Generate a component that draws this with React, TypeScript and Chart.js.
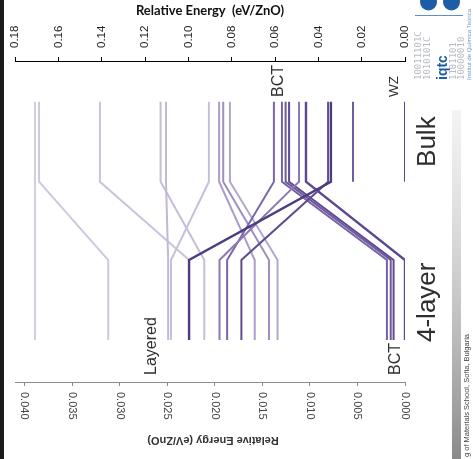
import { useEffect, useRef } from "react";
import { Chart, registerables } from "chart.js";

Chart.register(...registerables);

// ---- axes ----
const BULK_AXIS_MAX = 0.18; // top axis (bulk)
const LAYER_AXIS_MAX = 0.041; // bottom axis (4-layer)
const BULK_TICKS = [0, 0.02, 0.04, 0.06, 0.08, 0.1, 0.12, 0.14, 0.16, 0.18];
const LAYER_TICKS = [0, 0.005, 0.01, 0.015, 0.02, 0.025, 0.03, 0.035, 0.04];

// ---- level correlation: bulk energy (eV/ZnO) -> 4-layer energy (eV/ZnO) ----
const BULK_ENERGY = [
  0.1708, 0.1689, 0.1408, 0.1128, 0.1103, 0.0905, 0.0858, 0.0839, 0.0808,
  0.0605, 0.0568, 0.0551, 0.0535, 0.0489, 0.0457, 0.0355, 0.0342,
];
const LAYER_ENERGY = [
  0.0389, 0.0312, 0.0227, 0.0211, 0.0249, 0.0246, 0.0158, 0.0143, 0.0134,
  0.0187, 0.0019, 0.0015, 0.0012, 0.0195, 0.0, 0.0172, 0.0227,
];
const LINE_COLORS = [
  "#d3cde0", "#cfc8de", "#cbc3dc", "#c6bdd8", "#c2b9d5", "#c8c0da", "#ab9dc8",
  "#9f8fc0", "#b3a7cd", "#7c67a9", "#7663a4", "#6d589d", "#5f4a91", "#8b78b4",
  "#5c4790", "#604b92", "#4f3b7f",
];
const LINE_WIDTHS = [2, 2, 2, 2, 2, 2, 2, 2, 2, 2, 2, 2, 2, 2, 2.4, 2, 2.4];

// bulk-only levels (not correlated)
const BULK_ONLY_ENERGY = [0.024, 0.0];
const BULK_ONLY_COLORS = ["#6f5ba1", "#5a4889"];

// vertical stages: bulk top, bulk end, 4-layer start, 4-layer end
const STAGE_Y = [0.873, 0.624, 0.38, 0.131];

// labels: [text, axis, value (baseline), y start, font size]
const LABELS: [string, "top" | "bottom", number, number, number][] = [
  ["BCT", "top", 0.0563, 0.888, 16],
  ["WZ", "top", 0.0032, 0.888, 13.5],
  ["Bulk", "top", -0.0138, 0.67, 26],
  ["4-layer", "top", -0.0138, 0.1246, 26],
  ["Layered", "bottom", 0.0262, 0.0218, 16],
  ["BCT", "bottom", 0.00053, 0.0218, 16],
];

const toLayerScale = (e: number) => e * (LAYER_AXIS_MAX / BULK_AXIS_MAX);

const FONT = "'Liberation Sans', Arial, sans-serif";

export default function App() {
  const ref = useRef<HTMLCanvasElement | null>(null);

  useEffect(() => {
    if (!ref.current) return;

    const linked = BULK_ENERGY.map((b, i) => ({
      data: [
        { x: toLayerScale(b), y: STAGE_Y[0] },
        { x: toLayerScale(b), y: STAGE_Y[1] },
        { x: LAYER_ENERGY[i], y: STAGE_Y[2] },
        { x: LAYER_ENERGY[i], y: STAGE_Y[3] },
      ],
      borderColor: LINE_COLORS[i],
      borderWidth: LINE_WIDTHS[i],
      showLine: true,
      pointRadius: 0,
      fill: false,
      tension: 0,
    }));
    const bulkOnly = BULK_ONLY_ENERGY.map((b, i) => ({
      data: [
        { x: toLayerScale(b), y: STAGE_Y[0] },
        { x: toLayerScale(b), y: STAGE_Y[1] },
      ],
      borderColor: BULK_ONLY_COLORS[i],
      borderWidth: 2,
      showLine: true,
      pointRadius: 0,
      fill: false,
    }));
    // first dataset is drawn on top -> darkest first
    const datasets = [...bulkOnly, ...linked].reverse();

    const overlay = {
      id: "overlay",
      afterDraw(chart: any) {
        const ctx = chart.ctx as CanvasRenderingContext2D;
        const xb = chart.scales.x;
        const xt = chart.scales.xTop;
        const y = chart.scales.y;
        const ca = chart.chartArea;

        // top tick labels (rotated counter-clockwise)
        ctx.save();
        ctx.fillStyle = "#222";
        ctx.font = `11.5px ${FONT}`;
        for (const t of xt.ticks) {
          const px = xt.getPixelForValue(t.value);
          ctx.save();
          ctx.translate(px, xt.bottom - 13);
          ctx.rotate(-Math.PI / 2);
          ctx.textAlign = "left";
          ctx.textBaseline = "middle";
          ctx.fillText(Number(t.value).toFixed(2), 0, 0);
          ctx.restore();
        }
        ctx.restore();

        // bottom tick labels (rotated clockwise)
        ctx.save();
        ctx.fillStyle = "#444";
        ctx.font = `11px ${FONT}`;
        for (const t of xb.ticks) {
          const px = xb.getPixelForValue(t.value);
          ctx.save();
          ctx.translate(px, xb.top + 10);
          ctx.rotate(Math.PI / 2);
          ctx.textAlign = "left";
          ctx.textBaseline = "middle";
          ctx.fillText(Number(t.value).toFixed(3), 0, 0);
          ctx.restore();
        }
        // bottom title (upside down)
        ctx.save();
        ctx.translate((ca.left + ca.right) / 2 + 3, xb.top + 58);
        ctx.rotate(Math.PI);
        ctx.font = `bold 11px ${FONT}`;
        ctx.fillStyle = "#333";
        ctx.textAlign = "center";
        ctx.textBaseline = "middle";
        ctx.fillText("Relative Energy (eV/ZnO)", 0, 0);
        ctx.restore();

        // structure labels
        for (const [text, axis, v, yv, size] of LABELS) {
          const sc = axis === "top" ? xt : xb;
          const px = sc.getPixelForValue(v);
          const py = y.getPixelForValue(yv);
          ctx.save();
          ctx.translate(px, py);
          ctx.rotate(-Math.PI / 2);
          ctx.font = `${size}px ${FONT}`;
          ctx.fillStyle = "#2e2e2e";
          ctx.textAlign = "left";
          ctx.textBaseline = "alphabetic";
          ctx.fillText(text, 0, 0);
          ctx.restore();
        }
        ctx.restore();

        // ---- poster decorations ----
        ctx.save();
        ctx.fillStyle = "#1b1b1b";
        ctx.fillRect(0, 0, 4, 459);
        ctx.fillStyle = "#1d5ca6";
        ctx.beginPath();
        ctx.arc(428.5, 2, 8.5, 0, Math.PI * 2);
        ctx.fill();
        ctx.beginPath();
        ctx.arc(451.5, 2, 8.5, 0, Math.PI * 2);
        ctx.fill();
        ctx.strokeStyle = "#5d8fcf";
        ctx.lineWidth = 1;
        ctx.beginPath();
        ctx.moveTo(415, 15.5);
        ctx.lineTo(463, 15.5);
        ctx.stroke();
        const bin = ["10011101C", "1010101C", "1101101", "10000010"];
        const cols = [418, 427, 453, 461];
        ctx.font = `9px 'DejaVu Sans Mono', monospace`;
        ctx.fillStyle = "#b9bcc4";
        bin.forEach((s, i) => {
          ctx.save();
          ctx.translate(cols[i] + 3, 80);
          ctx.rotate(-Math.PI / 2);
          ctx.fillText(s, 0, 0);
          ctx.restore();
        });
        ctx.save();
        ctx.translate(447, 80);
        ctx.rotate(-Math.PI / 2);
        ctx.font = `bold 14px ${FONT}`;
        ctx.fillStyle = "#1d5ca6";
        ctx.fillText("iqtc", 0, 0);
        ctx.restore();
        ctx.save();
        ctx.translate(471, 80);
        ctx.rotate(-Math.PI / 2);
        ctx.font = `6px ${FONT}`;
        ctx.fillStyle = "#6f95c8";
        ctx.fillText("Institut de Química Teòrica", 0, 0);
        ctx.restore();
        const g = ctx.createLinearGradient(0, 110, 0, 459);
        g.addColorStop(0, "rgba(225,225,225,0.4)");
        g.addColorStop(1, "#8a8a8a");
        ctx.fillStyle = g;
        ctx.fillRect(452, 110, 9, 349);
        ctx.save();
        ctx.translate(469, 457);
        ctx.rotate(-Math.PI / 2);
        ctx.font = `7.5px ${FONT}`;
        ctx.fillStyle = "#444";
        ctx.fillText("g of Materials School, Sofia, Bulgaria", 0, 0);
        ctx.restore();
        ctx.restore();
      },
    };

    const chart = new Chart(ref.current, {
      type: "scatter",
      data: { datasets: datasets as any },
      plugins: [overlay as any],
      options: {
        animation: false,
        responsive: false,
        devicePixelRatio: 1,
        layout: { padding: { left: 15, right: 68, top: 0, bottom: 0 } },
        plugins: { legend: { display: false }, tooltip: { enabled: false } },
        scales: {
          x: {
            type: "linear",
            position: "bottom",
            min: 0,
            max: LAYER_AXIS_MAX,
            reverse: true,
            afterBuildTicks: (s: any) => {
              s.ticks = LAYER_TICKS.map((v) => ({ value: v }));
            },
            ticks: { display: false },
            grid: {
              drawOnChartArea: false,
              drawTicks: true,
              tickLength: 4,
              color: "#8c8c8c",
            },
            border: { display: true, color: "#8c8c8c", width: 1 },
            afterFit: (s: any) => {
              s.height = 77;
            },
          },
          xTop: {
            type: "linear",
            position: "top",
            min: 0,
            max: BULK_AXIS_MAX,
            reverse: true,
            afterBuildTicks: (s: any) => {
              s.ticks = BULK_TICKS.map((v) => ({ value: v }));
            },
            ticks: { display: false },
            grid: {
              drawOnChartArea: false,
              drawTicks: true,
              tickLength: 4,
              color: "#000",
            },
            border: { display: true, color: "#000", width: 1 },
            title: {
              display: true,
              text: "Relative Energy  (eV/ZnO)",
              color: "#111",
              font: { family: "Lato, sans-serif", size: 13, weight: "bold" },
              padding: { top: 3, bottom: 0 },
            },
            afterFit: (s: any) => {
              s.height = 61;
            },
          },
          y: { display: false, min: 0, max: 1 },
        },
      } as any,
    });
    return () => chart.destroy();
  }, []);

  return (
    <div style={{ position: "fixed", left: 0, top: 0, width: 473, height: 459, background: "#fff" }}>
      <canvas ref={ref} width={473} height={459} style={{ display: "block" }} />
    </div>
  );
}
